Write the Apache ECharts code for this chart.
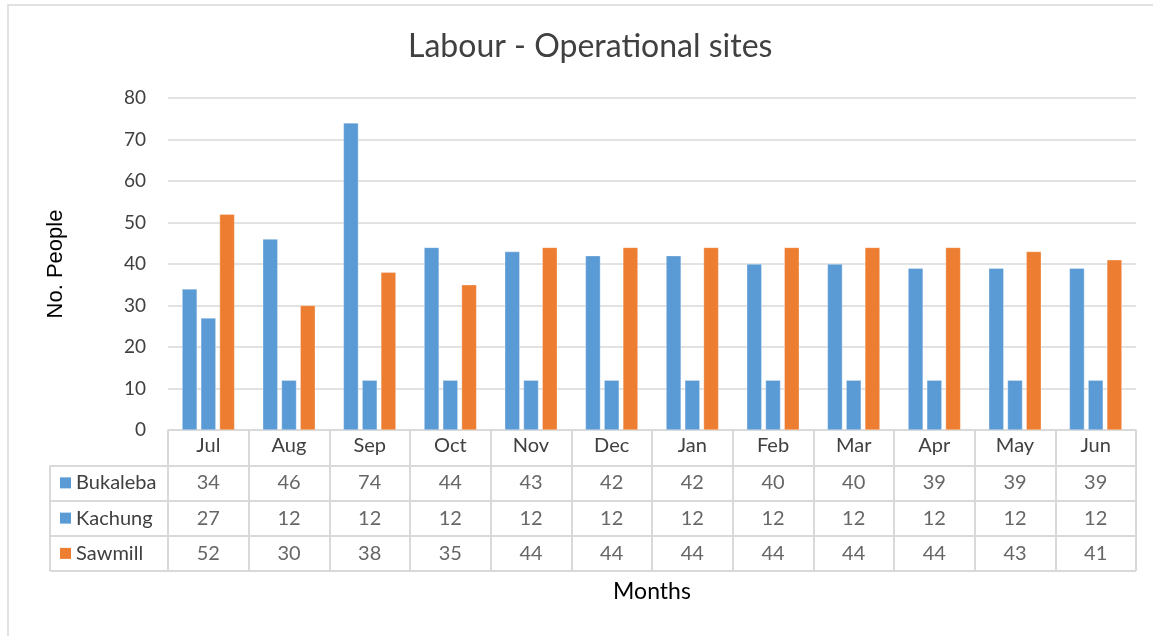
<!DOCTYPE html>
<html>
<head>
<meta charset="utf-8">
<script src="https://cdn.jsdelivr.net/npm/echarts@6/dist/echarts.min.js"></script>
<style>
  html, body { margin: 0; padding: 0; background: #fff; }
  #main { width: 1153px; height: 636px; }
</style>
</head>
<body>
<div id="main"></div>
<script>
// data
const months = ['Jul', 'Aug', 'Sep', 'Oct', 'Nov', 'Dec', 'Jan', 'Feb', 'Mar', 'Apr', 'May', 'Jun'];
const sites = ['Bukaleba', 'Kachung', 'Sawmill'];
const bukaleba = [34, 46, 74, 44, 43, 42, 42, 40, 40, 39, 39, 39];
const kachung = [27, 12, 12, 12, 12, 12, 12, 12, 12, 12, 12, 12];
const sawmill = [52, 30, 38, 35, 44, 44, 44, 44, 44, 44, 43, 41];
const siteColors = ['#5B9BD5', '#5B9BD5', '#ED7D31'];

const FONT = 'Lato, "Open Sans", sans-serif';
const LINE = '#d9d9d9';
const values = [bukaleba, kachung, sawmill];

const chart = echarts.init(document.getElementById('main'), null, { renderer: 'canvas' });

// bars in the top grid
const barSeries = values.map((vals, i) => ({
  name: sites[i],
  type: 'bar',
  xAxisIndex: 0,
  yAxisIndex: 0,
  data: vals,
  barWidth: 15,
  barGap: '25%',
  itemStyle: { color: siteColors[i], borderColor: 'rgba(255,255,255,0.6)', borderWidth: 0.5 },
}));

// table values, placed on the table grid's category axes
const tableSeries = values.map((vals, i) => ({
  name: sites[i] + ' table',
  type: 'scatter',
  xAxisIndex: 1,
  yAxisIndex: 1,
  symbolSize: 1,
  itemStyle: { color: 'rgba(0,0,0,0)' },
  silent: true,
  data: vals.map((v, j) => [months[j], sites[i], v]),
  label: {
    show: true,
    position: 'inside',
    formatter: (p) => String(p.value[2]),
    fontFamily: FONT,
    fontSize: 20,
    color: '#404040',
  },
}));

const option = {
  backgroundColor: '#ffffff',
  animation: false,
  title: {
    text: 'Labour - Operational sites',
    left: 403,
    top: 26,
    textStyle: { fontFamily: FONT, fontSize: 32, fontWeight: 'normal', color: '#404040' },
  },
  grid: [
    { left: 168, right: 17, top: 98, bottom: 206 },      // plot
    { left: 168, right: 17, top: 430, bottom: 65 },      // table body (header + 3 rows)
    { left: 50, width: 118, top: 465.25, bottom: 65 },  // legend column box
  ],
  xAxis: [
    {
      type: 'category',
      gridIndex: 0,
      data: months,
      axisLine: { lineStyle: { color: LINE, width: 1.5 } },
      axisTick: { show: false },
      axisLabel: { margin: 6, fontFamily: FONT, fontSize: 20, color: '#404040' },
    },
    {
      type: 'category',
      gridIndex: 1,
      data: months,
      axisLine: { show: false },
      axisTick: { show: false },
      axisLabel: { show: false },
      splitLine: { show: true, interval: 0, lineStyle: { color: LINE, width: 2 } },
    },
    {
      type: 'value',
      gridIndex: 2,
      min: 0,
      max: 1,
      interval: 1,
      axisLine: { show: false },
      axisTick: { show: false },
      axisLabel: { show: false },
      splitLine: { show: true, lineStyle: { color: LINE, width: 2 } },
    },
  ],
  yAxis: [
    {
      type: 'value',
      gridIndex: 0,
      min: 0,
      max: 80,
      interval: 10,
      name: 'No. People',
      nameLocation: 'middle',
      nameGap: 101,
      nameTextStyle: { fontFamily: '"Liberation Sans", Arial, sans-serif', fontSize: 22, color: '#000' },
      axisLine: { show: false },
      axisTick: { show: false },
      axisLabel: { margin: 22, fontFamily: FONT, fontSize: 19, color: '#404040' },
      splitLine: { lineStyle: { color: LINE, width: 1.5 } },
    },
    {
      type: 'category',
      gridIndex: 1,
      inverse: true,
      data: [''].concat(sites),
      axisLine: { show: false },
      axisTick: { show: false },
      axisLabel: {
        margin: 108,
        align: 'left',
        fontFamily: FONT,
        fontSize: 20,
        color: '#404040',
        formatter: (v) => {
          const i = sites.indexOf(v);
          return i < 0 ? '' : '{k' + i + '|} ' + v;
        },
        rich: {
          k0: { backgroundColor: siteColors[0], width: 11, height: 11 },
          k1: { backgroundColor: siteColors[1], width: 11, height: 11 },
          k2: { backgroundColor: siteColors[2], width: 11, height: 11 },
        },
      },
      splitLine: { show: true, interval: 0, lineStyle: { color: LINE, width: 2 } },
    },
    {
      type: 'category',
      gridIndex: 2,
      data: sites,
      axisLine: { show: false },
      axisTick: { show: false },
      axisLabel: { show: false },
      splitLine: { show: true, interval: 0, lineStyle: { color: LINE, width: 2 } },
    },
  ],
  graphic: [
    {
      type: 'text',
      x: 652,
      y: 592,
      style: {
        text: 'Months',
        fontFamily: FONT,
        fontSize: 23,
        fill: '#000',
        align: 'center',
        verticalAlign: 'middle',
      },
    },
    {
      type: 'rect',
      shape: { x: 8, y: 5, width: 1200, height: 700 },
      style: { fill: 'none', stroke: LINE, lineWidth: 1.5 },
      silent: true,
    },
  ],
  series: barSeries.concat(tableSeries),
};

chart.setOption(option);
</script>
</body>
</html>
